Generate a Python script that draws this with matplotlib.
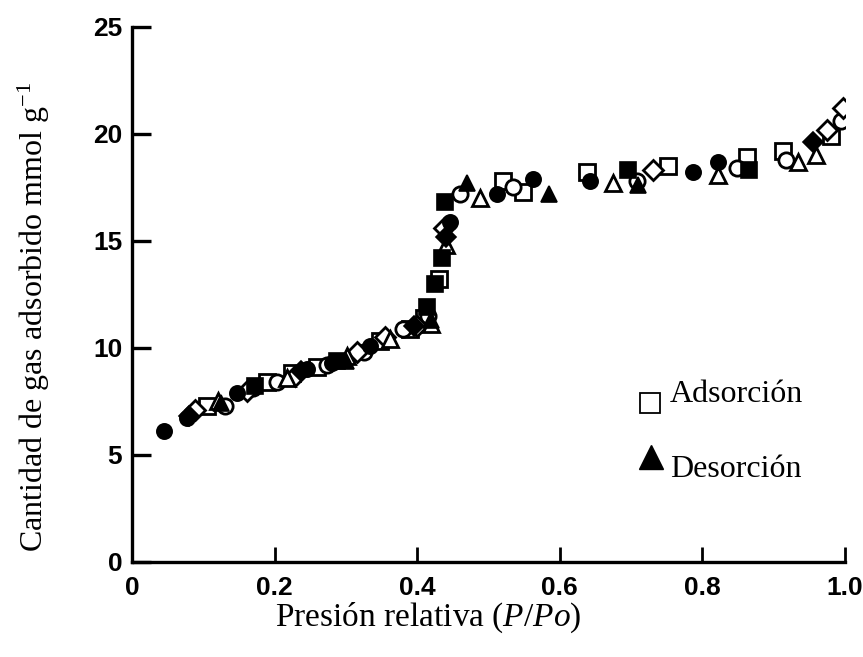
import matplotlib
matplotlib.use('Agg')
import matplotlib.pyplot as plt

# isotherm points (P/Po, mmol/g)
ads_sq_x = [0.105, 0.189, 0.225, 0.259, 0.348, 0.39, 0.41, 0.43, 0.52, 0.548, 0.638, 0.752, 0.862, 0.913, 0.98]
ads_sq_y = [7.3, 8.4, 8.8, 9.1, 10.3, 10.9, 11.4, 13.2, 17.8, 17.3, 18.2, 18.5, 18.9, 19.2, 19.9]

ads_ci_x = [0.13, 0.17, 0.203, 0.273, 0.325, 0.38, 0.415, 0.46, 0.535, 0.708, 0.848, 0.918, 0.995]
ads_ci_y = [7.3, 8.1, 8.4, 9.2, 9.8, 10.9, 11.5, 17.2, 17.5, 17.8, 18.4, 18.8, 20.6]

ads_di_x = [0.088, 0.161, 0.229, 0.316, 0.355, 0.40, 0.437, 0.731, 0.975, 0.998]
ads_di_y = [7.1, 8.0, 8.7, 9.8, 10.5, 11.0, 15.6, 18.3, 20.2, 21.2]

ads_tr_x = [0.12, 0.217, 0.302, 0.362, 0.42, 0.44, 0.488, 0.675, 0.822, 0.934, 0.96]
ads_tr_y = [7.5, 8.6, 9.6, 10.4, 11.1, 14.8, 17.0, 17.7, 18.1, 18.7, 19.0]

des_ci_x = [0.045, 0.077, 0.147, 0.245, 0.28, 0.334, 0.446, 0.512, 0.563, 0.642, 0.787, 0.822]
des_ci_y = [6.1, 6.7, 7.9, 9.0, 9.3, 10.1, 15.9, 17.2, 17.9, 17.8, 18.2, 18.7]

des_sq_x = [0.172, 0.288, 0.414, 0.425, 0.435, 0.439, 0.696, 0.865]
des_sq_y = [8.2, 9.4, 11.9, 13.0, 14.2, 16.8, 18.3, 18.3]

des_di_x = [0.08, 0.237, 0.395, 0.44, 0.955]
des_di_y = [6.8, 8.9, 11.0, 15.2, 19.6]

des_tr_x = [0.125, 0.30, 0.42, 0.47, 0.585, 0.71]
des_tr_y = [7.4, 9.4, 11.3, 17.7, 17.2, 17.6]

x_ticks = [0, 0.2, 0.4, 0.6, 0.8, 1.0]
x_ticklabels = ['0', '0.2', '0.4', '0.6', '0.8', '1.0']
y_ticks = [0, 5, 10, 15, 20, 25]

plt.rcParams['font.family'] = ['Liberation Serif', 'DejaVu Serif']
plt.rcParams['mathtext.fontset'] = 'custom'
plt.rcParams['mathtext.rm'] = 'Liberation Serif'
plt.rcParams['mathtext.it'] = 'Liberation Serif:italic'

fig = plt.figure(figsize=(8.63, 6.57), dpi=100)
ax = fig.add_axes([0.153, 0.145, 0.826, 0.814])

open_style = dict(ls='none', mfc='white', mec='black', mew=2.0, ms=11)
fill_style = dict(ls='none', mfc='black', mec='black', mew=1.2, ms=11)

ax.plot(ads_sq_x, ads_sq_y, marker='s', **open_style)
ax.plot(ads_ci_x, ads_ci_y, marker='o', **open_style)
ax.plot(ads_di_x, ads_di_y, marker='D', **dict(open_style, ms=10))
ax.plot(ads_tr_x, ads_tr_y, marker='^', **open_style)
ax.plot(des_ci_x, des_ci_y, marker='o', **fill_style)
ax.plot(des_sq_x, des_sq_y, marker='s', **fill_style)
ax.plot(des_di_x, des_di_y, marker='D', **dict(fill_style, ms=10))
ax.plot(des_tr_x, des_tr_y, marker='^', **fill_style)

ax.set_xlim(0, 1.0)
ax.set_ylim(0, 25)
ax.set_xticks(x_ticks)
ax.set_xticklabels(x_ticklabels)
ax.set_yticks(y_ticks)

for side in ['top', 'right']:
    ax.spines[side].set_visible(False)
for side in ['left', 'bottom']:
    ax.spines[side].set_linewidth(2.4)

ax.tick_params(axis='y', direction='in', length=14, width=2.4, pad=7)
ax.tick_params(axis='x', direction='in', length=11, width=2.0, pad=10)
for lab in ax.get_xticklabels() + ax.get_yticklabels():
    lab.set_family('Liberation Sans')
    lab.set_fontweight('bold')
    lab.set_fontsize(19)

ax.set_xlabel('Presión relativa (' + r'$\mathit{P/Po)}$', fontsize=24)
ax.xaxis.set_label_coords(0.415, -0.072)
ax.set_ylabel(r'Cantidad de gas adsorbido mmol g$^{\mathregular{-1}}$', fontsize=23)
ax.yaxis.set_label_coords(-0.112, 0.458)

# hand-placed key, as in the original figure
ax.plot([0.7265], [0.297], marker='s', ms=15, mfc='white', mec='black', mew=1.3,
        transform=ax.transAxes, clip_on=False)
ax.plot([0.7285], [0.196], marker='^', ms=17, mfc='black', mec='black',
        transform=ax.transAxes, clip_on=False)
ax.text(0.755, 0.312, 'Adsorción', transform=ax.transAxes, fontsize=23, va='center')
ax.text(0.755, 0.172, 'Desorción', transform=ax.transAxes, fontsize=23, va='center')

fig.savefig('out.png', dpi=100)
